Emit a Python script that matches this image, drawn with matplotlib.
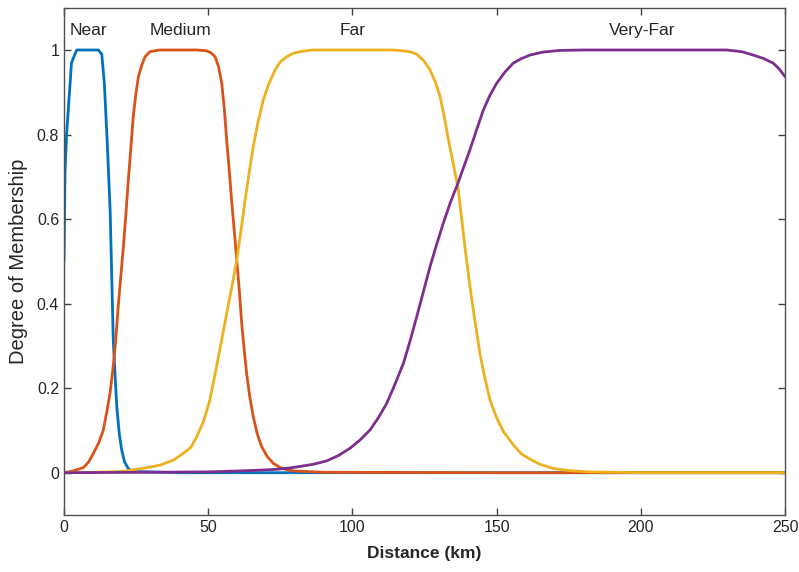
import matplotlib
matplotlib.use("Agg")
import matplotlib.pyplot as plt

# ---- data ----
near_x = [0, 0.35, 0.9, 2.6, 4.4, 8, 11.9, 13.1, 14.0, 15.0, 16.0, 17.1, 18.3, 19.2, 20.0, 21.0, 22.3, 23.5, 40, 80, 150, 250]
near_y = [0.50, 0.71, 0.80, 0.97, 1.0, 1.0, 1.0, 0.99, 0.92, 0.78, 0.62, 0.31, 0.156, 0.09, 0.054, 0.025, 0.01, 0.003, 0.0, 0.0, 0.0, 0.0]

medium_x = [0, 3, 6.7, 8.5, 10.2, 12, 13.6, 15, 16, 16.7, 17.3, 18, 18.8, 19.7, 20.6, 21.5, 22.3, 23.2, 24, 24.9, 25.8, 27,
            28.1, 29.8, 33, 40, 46, 49.5, 51, 52.4, 53.6, 54.7, 55.6, 56.4, 57.3, 58.1, 59, 59.9, 60.8, 61.6, 62.5, 63.3,
            64.4, 65.6, 67, 68.5, 70.5, 72.6, 75, 77.2, 80, 90, 150, 250]
medium_y = [0.0, 0.004, 0.012, 0.025, 0.046, 0.07, 0.10, 0.15, 0.19, 0.23, 0.267, 0.32, 0.393, 0.465, 0.535, 0.615, 0.692, 0.77, 0.842, 0.895, 0.937, 0.965,
            0.984, 0.996, 1.0, 1.0, 1.0, 0.998, 0.993, 0.984, 0.96, 0.921, 0.86, 0.787, 0.715, 0.645, 0.575, 0.503, 0.43, 0.354, 0.29, 0.236,
            0.18, 0.133, 0.092, 0.062, 0.038, 0.022, 0.012, 0.007, 0.004, 0.001, 0.0, 0.0]

far_x = [0, 10, 20, 22.9, 28, 33.3, 38, 41.4, 44, 46, 48.3, 50.5, 52.9, 54.7, 56.4, 58.2, 59.9, 61.4, 62.8, 64.2, 65.6, 67.3,
         69.1, 71, 73.2, 75, 77.2, 79.5, 81.8, 86, 100, 114, 117.6, 120, 122.3, 124.7, 126.9, 128.7, 130.4, 131.9, 133.3,
         135, 136.6, 137.8, 139.0, 140.2, 141.4, 142.8, 144.2, 145.9, 147.7, 150, 152.3, 155.8, 158.5, 161.6, 165, 169.7,
         175, 182, 200, 250]
far_y = [0.0, 0.001, 0.003, 0.006, 0.011, 0.018, 0.03, 0.046, 0.06, 0.085, 0.12, 0.17, 0.251, 0.315, 0.377, 0.44, 0.503, 0.575, 0.645, 0.71, 0.771, 0.83,
         0.882, 0.92, 0.953, 0.972, 0.984, 0.992, 0.996, 1.0, 1.0, 1.0, 0.998, 0.996, 0.99, 0.975, 0.953, 0.925, 0.89, 0.84, 0.787,
         0.73, 0.675, 0.605, 0.535, 0.47, 0.409, 0.345, 0.282, 0.225, 0.172, 0.13, 0.098, 0.066, 0.045, 0.032, 0.02, 0.01,
         0.005, 0.002, 0.0, 0.0]

veryfar_x = [0, 30, 50, 60, 68, 73.7, 78, 82, 86.5, 91.1, 95, 99.2, 102.6, 106.1, 109, 111.9, 114.8, 117.7, 120, 122.3,
             124.6, 126.9, 129.2, 131.5, 134, 136.6, 138.7, 140.8, 143.1, 145.4, 147.7, 150, 152.9, 155.8, 158.7, 161.6,
             166, 172, 180, 229.8, 235, 239, 242.5, 245.9, 248, 250]
veryfar_y = [0.0, 0.001, 0.002, 0.004, 0.006, 0.008, 0.011, 0.015, 0.02, 0.028, 0.04, 0.058, 0.077, 0.101, 0.13, 0.164, 0.21, 0.259, 0.312, 0.369,
             0.428, 0.487, 0.54, 0.59, 0.64, 0.685, 0.725, 0.765, 0.812, 0.858, 0.893, 0.921, 0.948, 0.969, 0.98, 0.988,
             0.995, 0.999, 1.0, 1.0, 0.996, 0.988, 0.98, 0.969, 0.955, 0.937]

labels = ["Near", "Medium", "Far", "Very-Far"]
label_x = [8.4, 40.4, 100.1, 200.6]
label_y = 1.045

colors = ["#0072BD", "#D95319", "#EDB120", "#7E2F8E"]

xticks = [0, 50, 100, 150, 200, 250]
yticks = [0, 0.2, 0.4, 0.6, 0.8, 1]
ytick_labels = ["0", "0.2", "0.4", "0.6", "0.8", "1"]

plt.rcParams['font.family'] = ['Liberation Sans', 'DejaVu Sans']

fig = plt.figure(figsize=(7.99, 5.72), dpi=100)
ax = fig.add_axes([0.0801, 0.0997, 0.9024, 0.8868])

series = [(near_x, near_y), (medium_x, medium_y), (far_x, far_y), (veryfar_x, veryfar_y)]
for (xs, ys), c in zip(series, colors):
    ax.plot(xs, ys, color=c, lw=2.0, solid_joinstyle='round', solid_capstyle='round')

for t, lx in zip(labels, label_x):
    ax.text(lx, label_y, t, ha='center', va='center', fontsize=12.5, color='#262626')

ax.set_xlim(0, 250)
ax.set_ylim(-0.1, 1.1)
ax.set_xticks(xticks)
ax.set_yticks(yticks)
ax.set_yticklabels(ytick_labels)
ax.tick_params(direction='in', top=True, right=True, labelsize=11.5, colors='#404040',
               labelcolor='#262626', length=5, width=1)
for s in ax.spines.values():
    s.set_color('#505050')
    s.set_linewidth(1.0)
ax.set_xlabel("Distance (km)", fontsize=12.5, fontweight='bold', color='#262626', labelpad=8)
ax.set_ylabel("Degree of Membership", fontsize=14.5, color='#262626', labelpad=6)

fig.savefig("out.png", dpi=100)
